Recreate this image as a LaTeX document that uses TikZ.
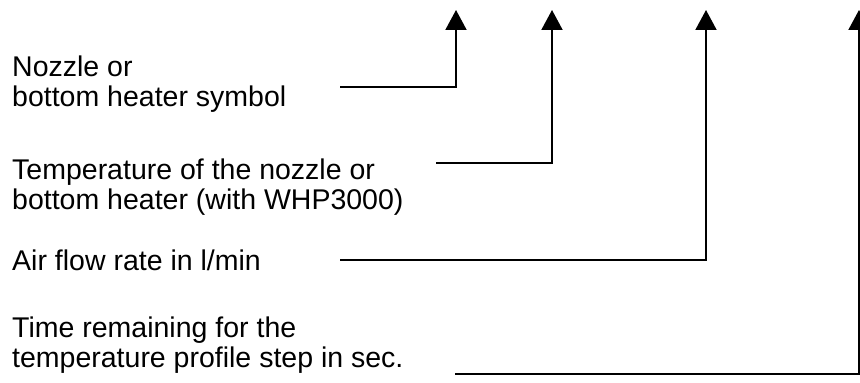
\documentclass[tikz,border=0pt]{standalone}
\usepackage{fontspec}
\setmainfont{Liberation Sans}
\usetikzlibrary{arrows.meta}

\begin{document}
\begin{tikzpicture}[x=1pt, y=1pt,
        note/.style={anchor=base west, inner sep=0pt, align=left, font=\fontsize{28.5}{30}\selectfont},
        pointer/.style={-{Triangle[width=21pt, length=20pt]}, line width=2pt}]
        \useasboundingbox (0, 0) rectangle (860, 383);
        \pgfmathsetmacro{\tip}{373}

        % base of a two-line note sits on its last line
        \node[note] (symbol) at (12, 276) {Nozzle or\\bottom heater symbol};
        \coordinate (symbolEnd) at (340, 296.3);
        \coordinate (symbolTop) at (456, \tip);
        \draw[pointer] (symbolEnd) -| (symbolTop);

        \node[note] (temp) at (12, 173) {Temperature of the nozzle or\\bottom heater (with WHP3000)};
        \coordinate (tempEnd) at (436, 220);
        \coordinate (tempTop) at (552, \tip);
        \draw[pointer] (tempEnd) -| (tempTop);

        \node[note] (air) at (12, 112) {Air flow rate in l/min};
        \coordinate (airEnd) at (340, 123);
        \coordinate (airTop) at (706, \tip);
        \draw[pointer] (airEnd) -| (airTop);

        \node[note] (time) at (12, 15) {Time remaining for the\\temperature profile step in sec.};
        \coordinate (timeEnd) at (455, 8.5);
        \coordinate (timeTop) at (859, \tip);
        \draw[pointer] (timeEnd) -| (timeTop);

    \end{tikzpicture}
\end{document}
